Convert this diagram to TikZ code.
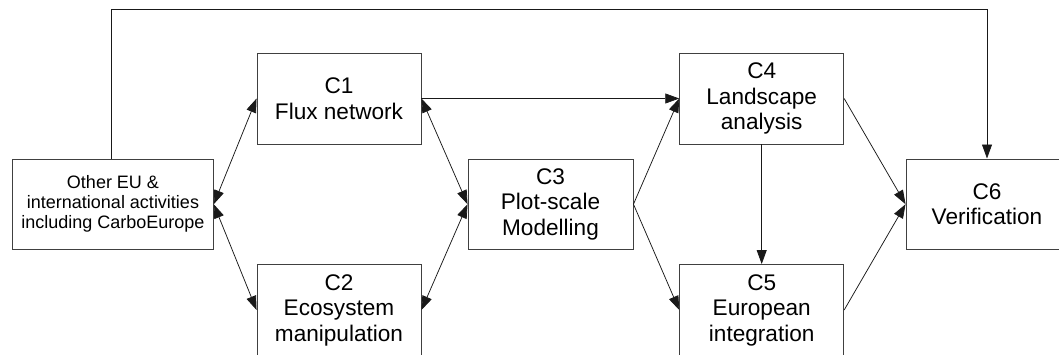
\documentclass[tikz,border=0pt]{standalone}
\usepackage{fontspec}
\setmainfont{Liberation Sans}
\usetikzlibrary{arrows.meta}
\tikzset{
  box/.style={draw=black!75, line width=0.9pt, fill=white, inner sep=0pt, align=center,
    minimum width=164pt, minimum height=91pt, font=\fontsize{22.6}{25.5}\selectfont},
  smallbox/.style={box, minimum width=200.6pt, minimum height=90.3pt, font=\fontsize{18}{20}\selectfont},
  conn/.style={line width=0.75pt, draw=black!90},
  tip/.style={-{Triangle[length=14pt,width=10pt]}},
  dtip/.style={{Triangle[length=14pt,width=10pt]}-{Triangle[length=14pt,width=10pt]}}
}
\begin{document}
\begin{tikzpicture}[x=1pt,y=-1pt]
\useasboundingbox (0,0) rectangle (1059,354);
\node[smallbox] (L) at (113,204.2) {Other EU \&\\international activities\\including CarboEurope};
\node[box] (C1) at (339,98.5) {C1\\Flux network};
\node[box] (C2) at (339,310) {C2\\Ecosystem\\manipulation};
\node[box, minimum width=165pt, minimum height=90.5pt] (C3) at (550.5,204.2) {C3\\Plot-scale\\Modelling};
\node[box] (C4) at (761.7,98.5) {C4\\Landscape\\analysis};
\node[box] (C5) at (761.7,310) {C5\\European\\integration};
\node[box, minimum width=162pt, minimum height=90.5pt] (C6) at (987,204.2) {C6\\Verification};
\draw[conn, dtip] (L.east) -- (C1.west);
\draw[conn, dtip] (L.east) -- (C2.west);
\draw[conn, dtip] (C1.east) -- (C3.west);
\draw[conn, dtip] (C2.east) -- (C3.west);
\draw[conn, tip] (C1.east) -- (C4.west);
\draw[conn, tip] (C3.east) -- (C4.west);
\draw[conn, tip] (C3.east) -- (C5.west);
\draw[conn, tip] (C4.south) -- (C5.north);
\draw[conn, tip] (C4.east) -- (C6.west);
\draw[conn, tip] (C5.east) -- (C6.west);
\draw[conn, tip] ([xshift=-2pt]L.north) -- ++(0,-149.7) -| (C6.north);
\end{tikzpicture}
\end{document}
